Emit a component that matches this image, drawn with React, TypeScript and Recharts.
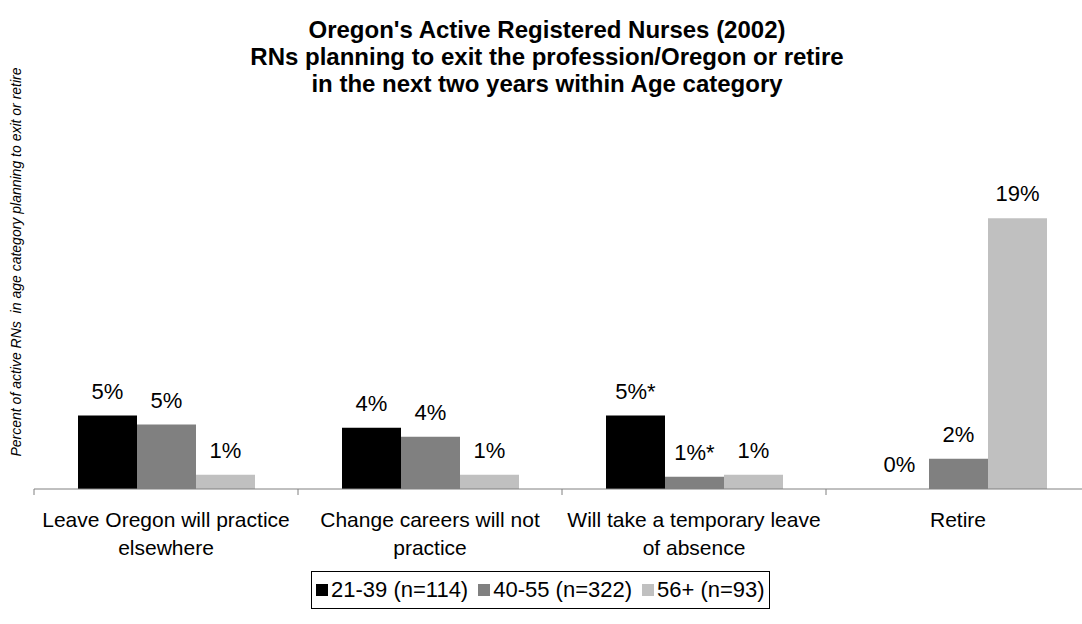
import React from 'react';
import { BarChart, Bar, XAxis, YAxis, Legend } from 'recharts';

const categories = [
  'Leave Oregon will practice\nelsewhere',
  'Change careers will not\npractice',
  'Will take a temporary leave\nof absence',
  'Retire',
];
const seriesNames = ['21-39 (n=114)', '40-55 (n=322)', '56+ (n=93)'];
const age2139 = [5.15, 4.29, 5.15, 0];
const age4055 = [4.52, 3.66, 0.86, 2.12];
const age56 = [1.0, 1.0, 1.0, 19.0];
const labels2139 = ['5%', '4%', '5%*', '0%'];
const labels4055 = ['5%', '4%', '1%*', '2%'];
const labels56 = ['1%', '1%', '1%', '19%'];
const titleLines = [
  "Oregon's Active Registered Nurses (2002)",
  'RNs planning to exit the profession/Oregon or retire',
  'in the next two years within Age category',
];
const yLabel = 'Percent of active RNs  in age category planning to exit or retire';
const colors = ['#000000', '#808080', '#c0c0c0'];

const FONT = '"Liberation Sans", Arial, Helvetica, sans-serif';

const data = categories.map((c, i) => ({
  category: c,
  a: age2139[i],
  b: age4055[i],
  c: age56[i],
}));

const CHART_W = 1100;
const CHART_H = 624;
const MARGIN = { top: 204, right: 10, left: 34, bottom: 75 };
const CAT_W = (CHART_W - MARGIN.left - MARGIN.right) / categories.length;

const CatTick = (props: any) => {
  const { x, y, payload } = props;
  const axisY = y - 8;
  const lines = String(payload.value).split('\n');
  const bx = x - CAT_W / 2;
  return (
    <g>
      <line x1={bx} x2={bx} y1={axisY} y2={axisY + 6} stroke="#808080" strokeWidth={1} />
      <text x={x} y={axisY} textAnchor="middle" fontSize={21} fill="#000" fontFamily={FONT}>
        {lines.map((l, i) => (
          <tspan key={i} x={x} dy={i === 0 ? 38 : 27.5}>
            {l}
          </tspan>
        ))}
      </text>
    </g>
  );
};

const makeLabel = (labels: string[]) => (props: any) => {
  const { x, y, width, height, index } = props;
  const v = labels[index];
  if (v == null) return null;
  return (
    <text x={x + width / 2} y={Math.min(y, y + height) - 17} textAnchor="middle" fontSize={22} fill="#000" fontFamily={FONT}>
      {v}
    </text>
  );
};

const LegendBox = (props: any) => {
  const payload = props.payload || [];
  return (
    <div
      style={{
        border: '1px solid #000',
        display: 'inline-flex',
        alignItems: 'center',
        height: 38,
        padding: '0 4px 0 4px',
        boxSizing: 'border-box',
        fontFamily: FONT,
        fontSize: 22,
        color: '#000',
        background: '#fff',
        whiteSpace: 'nowrap',
      }}
    >
      {payload.map((p: any, i: number) => (
        <span key={i} style={{ display: 'inline-flex', alignItems: 'center', marginRight: i < payload.length - 1 ? 10 : 0 }}>
          <span style={{ width: 12, height: 12, background: p.color, display: 'inline-block', marginRight: 3 }} />
          <span>{p.value}</span>
        </span>
      ))}
    </div>
  );
};

export default function App() {
  return (
    <div style={{ position: 'absolute', left: 0, top: 0, width: 1082, height: 624, overflow: 'hidden', background: '#fff' }}>
      <BarChart width={CHART_W} height={CHART_H} data={data} margin={MARGIN} barGap={0} barCategoryGap={44}>
        <XAxis
          dataKey="category"
          height={60}
          interval={0}
          axisLine={{ stroke: '#808080', strokeWidth: 1 }}
          tickLine={false}
          tickSize={6}
          tickMargin={2}
          tick={<CatTick />}
        />
        <YAxis hide domain={[0, 20]} />
        <Legend
          verticalAlign="middle"
          align="center"
          layout="horizontal"
          wrapperStyle={{ top: 571, left: 311, width: 'auto', height: 'auto' }}
          content={<LegendBox />}
        />
        <Bar dataKey="a" name={seriesNames[0]} fill={colors[0]} minPointSize={0.01} isAnimationActive={false} label={makeLabel(labels2139)} />
        <Bar dataKey="b" name={seriesNames[1]} fill={colors[1]} minPointSize={0.01} isAnimationActive={false} label={makeLabel(labels4055)} />
        <Bar dataKey="c" name={seriesNames[2]} fill={colors[2]} minPointSize={0.01} isAnimationActive={false} label={makeLabel(labels56)} />
        <text x={547} textAnchor="middle" fontSize={24} fontWeight="bold" fill="#000" fontFamily={FONT}>
          {titleLines.map((t, i) => (
            <tspan key={i} x={547} y={38 + i * 27}>
              {t}
            </tspan>
          ))}
        </text>
        <text
          x={16}
          y={262}
          transform="rotate(-90, 16, 262)"
          textAnchor="middle"
          dominantBaseline="central"
          fontSize={14}
          fontStyle="italic"
          fill="#000"
          fontFamily={FONT}
          style={{ whiteSpace: 'pre' }}
        >
          {yLabel}
        </text>
      </BarChart>
    </div>
  );
}
